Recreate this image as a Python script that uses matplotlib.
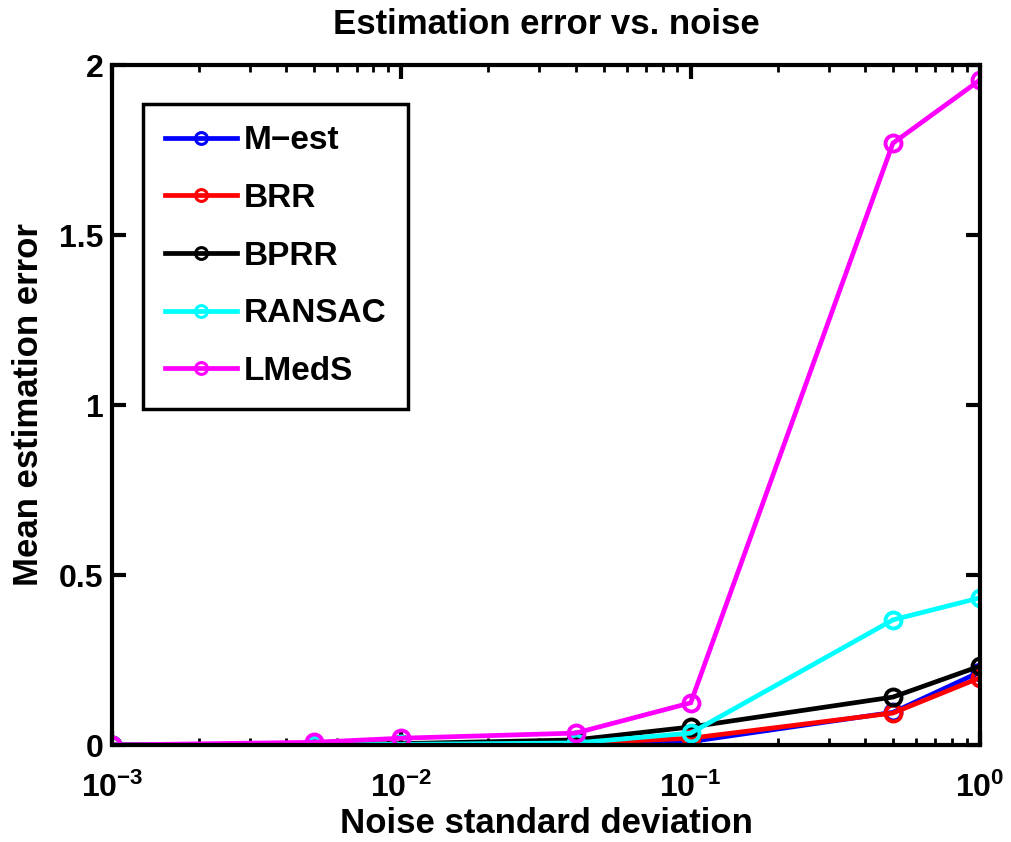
import matplotlib
matplotlib.use("Agg")
import matplotlib.pyplot as plt
from matplotlib.lines import Line2D
from matplotlib.legend_handler import HandlerLine2D
from matplotlib.ticker import FixedLocator, LogLocator, NullFormatter

plt.rcParams['font.family'] = ['Liberation Sans', 'DejaVu Sans']
plt.rcParams['font.weight'] = 'bold'
plt.rcParams['mathtext.fontset'] = 'custom'
plt.rcParams['mathtext.rm'] = 'Liberation Sans:bold'
plt.rcParams['mathtext.bf'] = 'Liberation Sans:bold'
plt.rcParams['mathtext.default'] = 'bf'

# Noise levels and mean estimation errors per method
noise_std = [0.001, 0.005, 0.01, 0.04, 0.1, 0.5, 1.0]
mest = [0.0, 0.001, 0.002, 0.004, 0.010, 0.096, 0.215]
brr = [0.0, 0.001, 0.002, 0.005, 0.020, 0.094, 0.198]
bprr = [0.0, 0.002, 0.004, 0.015, 0.053, 0.141, 0.232]
ransac = [0.0, 0.001, 0.002, 0.006, 0.035, 0.368, 0.433]
lmeds = [0.0, 0.008, 0.020, 0.035, 0.124, 1.770, 1.956]

methods = ["M\u2212est", "BRR", "BPRR", "RANSAC", "LMedS"]
series = [mest, brr, bprr, ransac, lmeds]
colors = ["#0000ff", "#ff0000", "#000000", "#00ffff", "#ff00ff"]

xticks = [1e-3, 1e-2, 1e-1, 1e0]
xticklabels = [r"$10^{-3}$", r"$10^{-2}$", r"$10^{-1}$", r"$10^{0}$"]
yticks = [0, 0.5, 1, 1.5, 2]
yticklabels = ["0", "0.5", "1", "1.5", "2"]

fig = plt.figure(figsize=(10.12, 8.42), dpi=100)
ax = fig.add_axes([0.1107, 0.1152, 0.8577, 0.8076])

for name, vals, c in zip(methods, series, colors):
    ax.plot(noise_std, vals, color=c, lw=3.4, marker='o', markersize=11.5,
            markerfacecolor='none', markeredgecolor=c, markeredgewidth=2.8,
            label=name, solid_joinstyle='miter')

ax.set_xscale('log')
ax.set_xlim(1e-3, 1e0)
ax.set_ylim(0, 2)
ax.xaxis.set_major_locator(FixedLocator(xticks))
ax.set_xticklabels(xticklabels)
ax.xaxis.set_minor_locator(LogLocator(base=10, subs=range(2, 10)))
ax.xaxis.set_minor_formatter(NullFormatter())
ax.set_yticks(yticks)
ax.set_yticklabels(yticklabels)

for s in ax.spines.values():
    s.set_linewidth(3)
ax.tick_params(which='both', direction='in', top=True, right=True,
               labelsize=23, width=3)
ax.tick_params(axis='x', which='major', pad=20)
ax.tick_params(axis='y', which='major', pad=6)
ax.tick_params(which='major', length=10)
ax.tick_params(which='minor', length=5, width=2)

ax.set_title("Estimation error vs. noise", fontsize=25, fontweight='bold', pad=22)
ax.set_xlabel("Noise standard deviation", fontsize=25, fontweight='bold', labelpad=2)
ax.set_ylabel("Mean estimation error", fontsize=25, fontweight='bold', labelpad=10)


def small_marker(legend_handle, orig_handle):
    legend_handle.update_from(orig_handle)
    legend_handle.set_markersize(8.5)
    legend_handle.set_markeredgewidth(2.2)


leg = ax.legend(loc='upper left', bbox_to_anchor=(0.036, 0.943), fontsize=24,
                frameon=True, fancybox=False, edgecolor='black', framealpha=1,
                handlelength=2.15, labelspacing=0.8, borderpad=0.65,
                handletextpad=0.2, borderaxespad=0,
                handler_map={Line2D: HandlerLine2D(update_func=small_marker)})
leg.get_frame().set_linewidth(2.5)
for t in leg.get_texts():
    t.set_fontweight('bold')

fig.savefig("out.png", dpi=100)
